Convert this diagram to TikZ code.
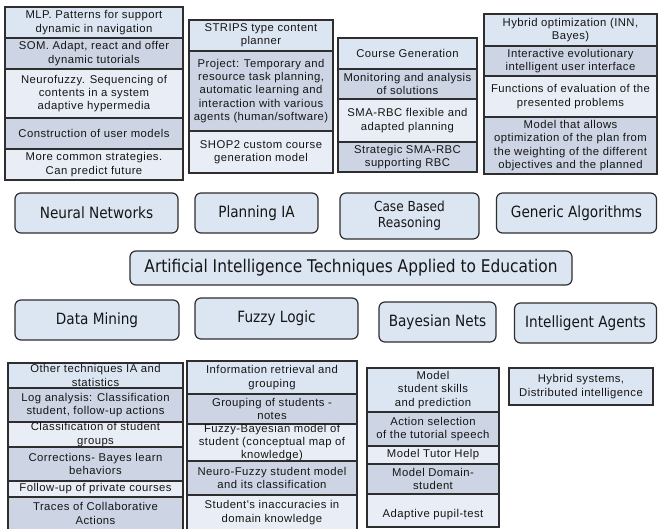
\documentclass[tikz,border=0pt]{standalone}
\usepackage{fontspec}
\setmainfont{Liberation Sans}
\newfontfamily\cellfont[LetterSpace=4]{Liberation Sans}
\newfontfamily\boxfont[FakeStretch=0.88]{DejaVu Sans}
\definecolor{cA}{HTML}{DCE6F2}
\definecolor{cB}{HTML}{CDD5E4}
\definecolor{cC}{HTML}{E9EEF6}
\definecolor{lineC}{HTML}{2E2E2E}
\definecolor{txt}{HTML}{151515}
\tikzset{
 cellline/.style={draw=lineC, line width=1.3pt},
 celltext/.style={font=\cellfont\fontsize{11.3}{13.2}\selectfont, text=txt, align=center, inner sep=0pt},
 rbox/.style={draw=lineC, line width=1.2pt, fill=cA, rounded corners=6pt, font=\boxfont\fontsize{15.5}{16}\selectfont, text=txt, align=center, inner sep=0pt},
}
\newcommand{\mycell}[7]{%
 \draw[cellline, fill=#6] (#2,#3) rectangle (#4,#5);
 \node[celltext] (#1) at ({(#2+#4)/2},{(#3+#5)/2}) {#7};}
\begin{document}
\begin{tikzpicture}[x=1pt,y=-1pt]
\useasboundingbox[fill=white] (0,0) rectangle (658,529);
% top column 1
\mycell{mlp}{5}{7}{183}{38}{cA}{MLP. Patterns for support\\dynamic in navigation}
\mycell{som}{5}{38}{183}{69}{cB}{SOM. Adapt, react and offer\\dynamic tutorials}
\mycell{nfz}{5}{69}{183}{118}{cC}{Neurofuzzy. Sequencing of\\contents in a system\\adaptive hypermedia}
\mycell{cum}{5}{118}{183}{149}{cB}{Construction of user models}
\mycell{mcs}{5}{149}{183}{180}{cC}{More common strategies.\\Can predict future}
% top column 2
\mycell{strips}{189}{20}{333}{51}{cA}{STRIPS type content\\planner}
\mycell{proj}{189}{51}{333}{131}{cB}{Project: Temporary and\\resource task planning,\\automatic learning and\\interaction with various\\agents (human/software)}
\mycell{shop}{189}{131}{333}{173}{cC}{SHOP2 custom course\\generation model}
% top column 3
\mycell{cgen}{338}{38}{477}{69}{cA}{Course Generation}
\mycell{mon}{338}{69}{477}{99}{cB}{Monitoring and analysis\\of solutions}
\mycell{smaf}{338}{99}{477}{142}{cC}{SMA-RBC flexible and\\adapted planning}
\mycell{smas}{338}{142}{477}{172}{cB}{Strategic SMA-RBC\\supporting RBC}
% top column 4
\mycell{hyb}{484}{14}{657}{46}{cA}{Hybrid optimization (INN,\\Bayes)}
\mycell{inter}{484}{46}{657}{76}{cB}{Interactive evolutionary\\intelligent user interface}
\mycell{func}{484}{76}{657}{117}{cC}{Functions of evaluation of the\\presented problems}
\mycell{mod}{484}{117}{657}{174}{cB}{Model that allows\\optimization of the plan from\\the weighting of the different\\objectives and the planned}
% rounded boxes
\node[rbox, minimum width=163pt, minimum height=40pt] (nn) at (96.5,213) {Neural Networks};
\node[rbox, minimum width=123pt, minimum height=40pt] (pl) at (256.5,213) {Planning IA};
\node[rbox, minimum width=139pt, minimum height=46pt, font=\boxfont\fontsize{13.8}{16}\selectfont] (cbr) at (409.5,216) {Case Based\\Reasoning};
\node[rbox, minimum width=160pt, minimum height=40pt] (ga) at (576.5,213) {Generic Algorithms};
\node[rbox, minimum width=442pt, minimum height=34pt, font=\boxfont\fontsize{17.5}{19}\selectfont] (title) at (351,268) {Artificial Intelligence Techniques Applied to Education};
\node[rbox, minimum width=164pt, minimum height=40pt] (dm) at (97,320) {Data Mining};
\node[rbox, minimum width=163pt, minimum height=41pt] (fl) at (276.5,318.5) {Fuzzy Logic};
\node[rbox, minimum width=117pt, minimum height=40pt] (bn) at (437.5,322) {Bayesian Nets};
\node[rbox, minimum width=142pt, minimum height=40pt] (ia) at (585.5,323) {Intelligent Agents};
% bottom column A
\mycell{oth}{8}{363}{183}{388}{cA}{Other techniques IA and\\statistics}
\mycell{log}{8}{388}{183}{422}{cB}{Log analysis: Classification\\student, follow-up actions}
\mycell{cls}{8}{422}{183}{447}{cC}{Classification of student\\groups}
\mycell{cor}{8}{447}{183}{481}{cB}{Corrections- Bayes learn\\behaviors}
\mycell{fol}{8}{481}{183}{497}{cC}{Follow-up of private courses}
\mycell{tra}{8}{497}{183}{530}{cB}{Traces of Collaborative\\Actions}
% bottom column B
\mycell{inf}{187}{361}{357}{394}{cA}{Information retrieval and\\grouping}
\mycell{grp}{187}{394}{357}{424}{cB}{Grouping of students -\\notes}
\mycell{fbm}{187}{424}{357}{461}{cC}{Fuzzy-Bayesian model of\\student (conceptual map of\\knowledge)}
\mycell{nfm}{187}{461}{357}{495}{cB}{Neuro-Fuzzy student model\\and its classification}
\mycell{sia}{187}{495}{357}{530}{cC}{Student's inaccuracies in\\domain knowledge}
% bottom column C
\mycell{msk}{367}{368}{499}{412}{cA}{Model\\student skills\\and prediction}
\mycell{act}{367}{412}{499}{446}{cB}{Action selection\\of the tutorial speech}
\mycell{mth}{367}{446}{499}{464}{cC}{Model Tutor Help}
\mycell{mds}{367}{464}{499}{494}{cB}{Model Domain-\\student}
\mycell{apt}{367}{494}{499}{527}{cC}{~\\[3pt]Adaptive pupil-test}
% bottom column D
\mycell{hsd}{509}{368}{653}{405}{cA}{Hybrid systems,\\Distributed intelligence}
\end{tikzpicture}
\end{document}
